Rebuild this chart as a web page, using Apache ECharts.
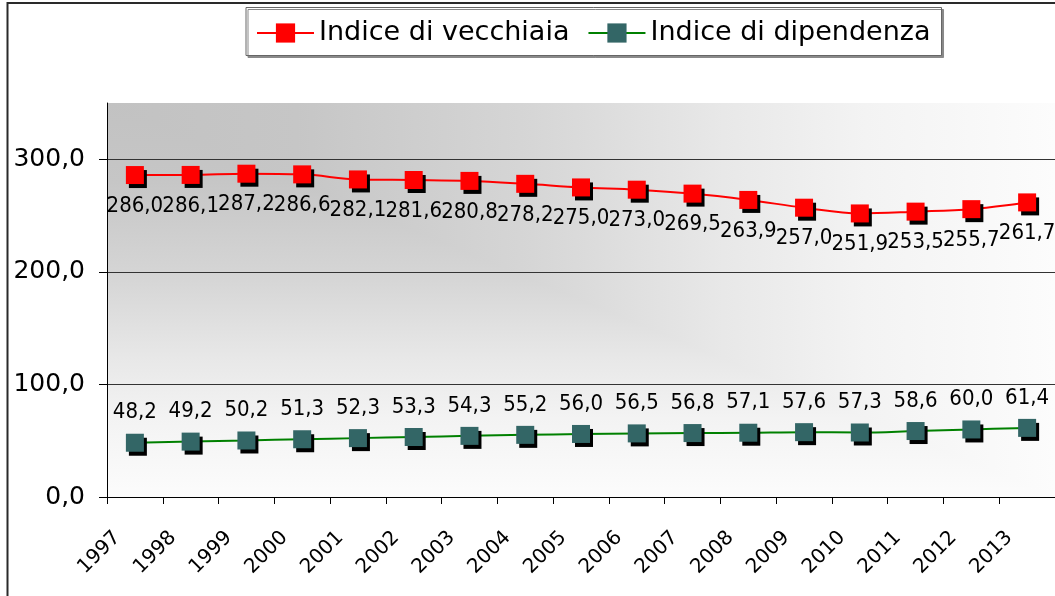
<!DOCTYPE html>
<html><head><meta charset="utf-8">
<script src="https://cdn.jsdelivr.net/npm/echarts@6/dist/echarts.min.js"></script>
<style>html,body{margin:0;padding:0;background:#fff}#c{width:1055px;height:596px}</style>
</head><body><div id="c"></div>
<script>
const years = ['1997','1998','1999','2000','2001','2002','2003','2004','2005','2006','2007','2008','2009','2010','2011','2012','2013'];
const vecchiaia = [286.0,286.1,287.2,286.6,282.1,281.6,280.8,278.2,275.0,273.0,269.5,263.9,257.0,251.9,253.5,255.7,261.7];
const dipendenza = [48.2,49.2,50.2,51.3,52.3,53.3,54.3,55.2,56.0,56.5,56.8,57.1,57.6,57.3,58.6,60.0,61.4];
const yTicks = [0,100,200,300];
const seriesNames = ['Indice di vecchiaia','Indice di dipendenza'];

const W = 1055, H = 596;
const G = {left:107, top:103, right:0, bottom:99};
const gx0 = G.left, gy0 = G.top, gx1 = W - G.right, gy1 = H - G.bottom;
const bgStops = [[0,'#c2c2c2'],[0.2,'#c6c6c6'],[0.45,'#d6d6d6'],[0.65,'#e8e8e8'],[0.8,'#f3f3f3'],[1,'#fcfcfc']];
function grad(x2,y2){
  return new echarts.graphic.LinearGradient(0,0,x2,y2,bgStops.map(s=>({offset:s[0],color:s[1]})));
}
const fmt = v => Number(v).toFixed(1).replace('.', ',');
const labFont = "'DejaVu Sans Condensed', 'Liberation Sans', sans-serif";

const chart = echarts.init(document.getElementById('c'), null, {renderer:'canvas'});
chart.setOption({
  animation:false,
  backgroundColor:'#ffffff',
  grid:{left:G.left, top:G.top, right:G.right, bottom:G.bottom, containLabel:false},
  graphic:[
    {type:'rect', z:-20, silent:true, shape:{x:7.5, y:3, width:1200, height:800}, style:{fill:'none', stroke:'#2a2a2a', lineWidth:2}},
    {type:'rect', z:-10, silent:true, shape:{x:gx0, y:gy0, width:gx1-gx0, height:gy1-gy0}, style:{fill:grad(1,0)}},
    {type:'polygon', z:-9, silent:true, shape:{points:[[gx0,gy0],[gx0,gy1],[gx1,gy1]]}, style:{fill:grad(0,1)}}
  ],
  legend:{
    left:246, top:7.5, orient:'horizontal',
    padding:[12,11,9,10], itemGap:18, itemWidth:57, itemHeight:24,
    backgroundColor:'#ffffff', borderColor:'#666', borderWidth:1,
    shadowColor:'#8a8a8a', shadowOffsetX:2, shadowOffsetY:2, shadowBlur:0,
    textStyle:{fontFamily:'DejaVu Sans', fontSize:27, color:'#000'},
    itemStyle:{shadowColor:'rgba(0,0,0,0)', shadowOffsetX:0, shadowOffsetY:0, shadowBlur:0},
    lineStyle:{width:2},
    data:seriesNames
  },
  xAxis:{
    type:'category', data:years, boundaryGap:true,
    axisLine:{show:true, lineStyle:{color:'#000', width:1}},
    axisTick:{show:true, length:7, lineStyle:{color:'#000'}},
    axisLabel:{
      rotate:45, interval:0, margin:20, fontFamily:'DejaVu Sans', fontSize:20, color:'#000',
      formatter: v => '{y|' + v + '}',
      rich:{y:{fontFamily:'DejaVu Sans', fontSize:20, color:'#000', padding:[0,25,0,0]}}
    },
    splitLine:{show:false}
  },
  yAxis:{
    type:'value', min:0, max:350, interval:100,
    axisLine:{show:true, lineStyle:{color:'#000', width:1}},
    axisTick:{show:true, length:8, customValues:yTicks, lineStyle:{color:'#000'}},
    axisLabel:{customValues:yTicks, margin:22, formatter:fmt, fontFamily:'DejaVu Sans', fontSize:25, color:'#000'},
    splitLine:{show:true, lineStyle:{color:['#333','#333','#333','#333','#86a0a0'], width:1}}
  },
  series:[
    {
      name:seriesNames[0], type:'line', data:vecchiaia, smooth:0.35,
      symbol:'rect', symbolSize:18,
      lineStyle:{color:'#ff0000', width:2},
      itemStyle:{color:'#ff0000', shadowColor:'#000', shadowOffsetX:3, shadowOffsetY:4, shadowBlur:0},
      label:{show:true, position:'bottom', distance:11, formatter:p=>fmt(p.value), fontFamily:labFont, fontSize:22, color:'#000'},
      emphasis:{disabled:true}
    },
    {
      name:seriesNames[1], type:'line', data:dipendenza, smooth:0.35,
      symbol:'rect', symbolSize:18,
      lineStyle:{color:'#008000', width:2},
      itemStyle:{color:'#336666', shadowColor:'#000', shadowOffsetX:3, shadowOffsetY:4, shadowBlur:0},
      label:{show:true, position:'top', distance:10, formatter:p=>fmt(p.value), fontFamily:labFont, fontSize:22, color:'#000'},
      emphasis:{disabled:true}
    }
  ]
});
</script></body></html>
